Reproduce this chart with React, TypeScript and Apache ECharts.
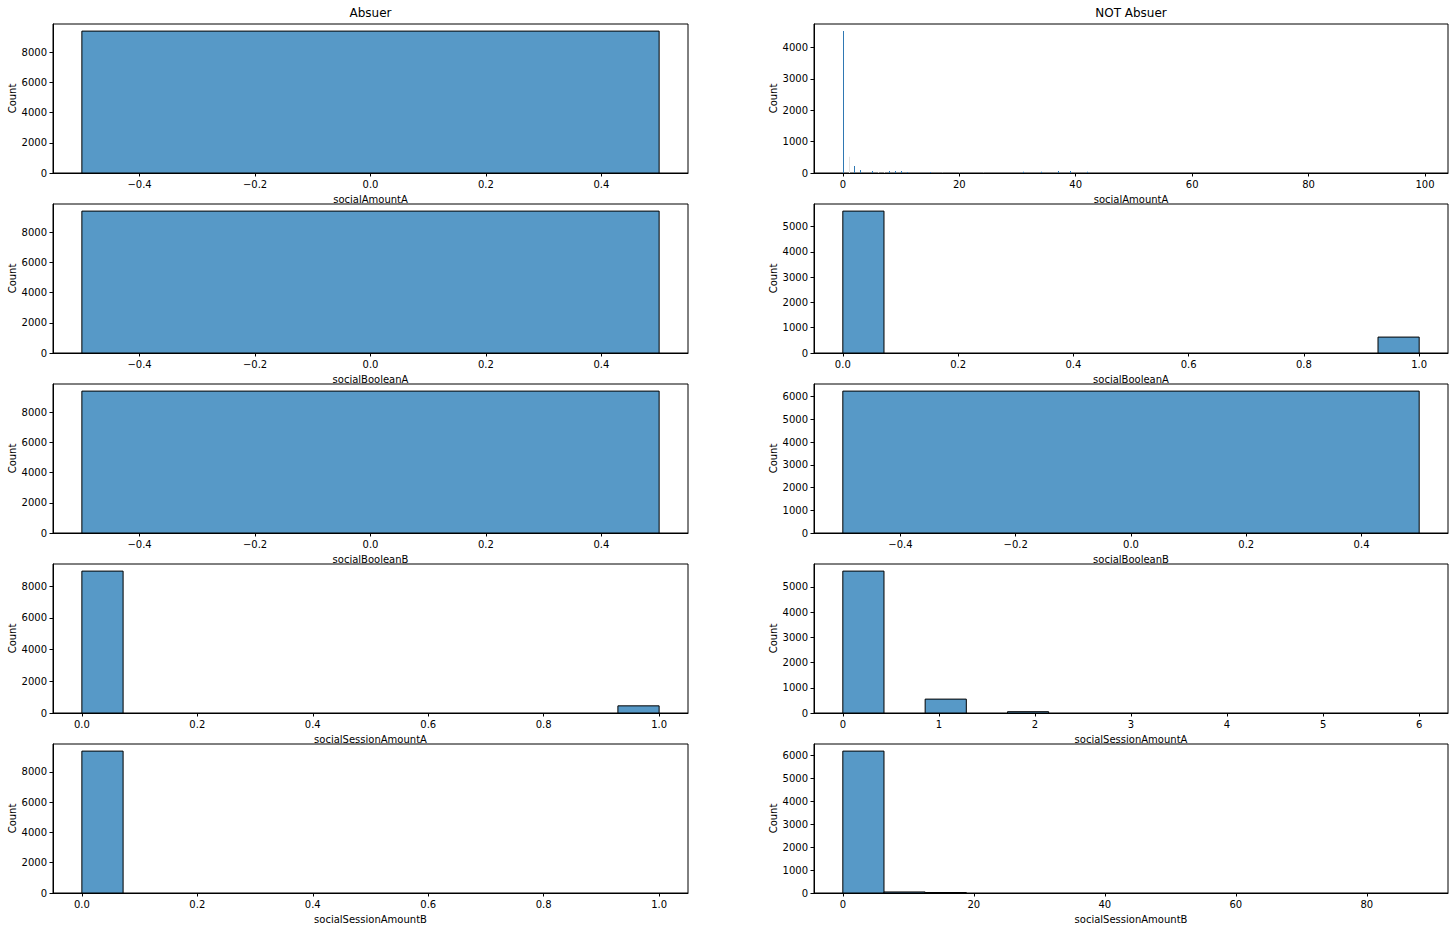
import React, { useEffect, useRef } from 'react';
import * as echarts from 'echarts';

// ---------------- data ----------------
const columnTitles = ['Absuer', 'NOT Absuer'];
const featureNames = ['socialAmountA', 'socialBooleanA', 'socialBooleanB', 'socialSessionAmountA', 'socialSessionAmountB'];

// Absuer column (counts per bin)
const absSocialAmountACounts = [9390]; // single bin centred on 0
const absSocialBooleanACounts = [9390];
const absSocialBooleanBCounts = [9390];
const absSocialSessionAmountACounts = [8940, 0, 0, 0, 0, 0, 0, 0, 0, 0, 0, 0, 0, 450];
const absSocialSessionAmountBCounts = [9380, 0, 0, 0, 0, 0, 0, 0, 0, 0, 0, 0, 0, 10];

// NOT Absuer column
const notSocialAmountAValues = [0, 1, 2, 3, 5, 6, 7, 8, 9, 10, 11, 15, 17, 20, 24, 29, 31, 34, 37, 39, 42, 99];
const notSocialAmountACounts = [4526, 520, 222, 95, 64, 20, 20, 64, 64, 64, 32, 32, 10, 15, 10, 8, 40, 40, 60, 60, 40, 2];
const notSocialAmountAFaintValues = [1, 6, 7, 17, 20, 24, 29, 99];
const notSocialBooleanACounts = [5617, 0, 0, 0, 0, 0, 0, 0, 0, 0, 0, 0, 0, 630];
const notSocialBooleanBCounts = [6247];
const notSocialSessionAmountACounts = [5630, 0, 551, 0, 52, 0, 0, 6, 0, 3, 0, 2, 0, 1];
const notSocialSessionAmountBCounts = [6173, 45, 20, 3, 2, 1, 0, 0, 0, 0, 0, 0, 0, 3];

// tick values / labels
const centredTicks = [-0.4, -0.2, 0, 0.2, 0.4];
const centredLabels = ['\u22120.4', '\u22120.2', '0.0', '0.2', '0.4'];
const unitTicks = [0, 0.2, 0.4, 0.6, 0.8, 1];
const unitLabels = ['0.0', '0.2', '0.4', '0.6', '0.8', '1.0'];
const amountATicks = [0, 20, 40, 60, 80, 100];
const sessionATicks = [0, 1, 2, 3, 4, 5, 6];
const sessionBTicks = [0, 20, 40, 60, 80];
const countTicks2000 = [0, 2000, 4000, 6000, 8000];
const countTicks4000 = [0, 1000, 2000, 3000, 4000];
const countTicks5000 = [0, 1000, 2000, 3000, 4000, 5000];
const countTicks6000 = [0, 1000, 2000, 3000, 4000, 5000, 6000];

// ---------------- helpers ----------------
type Bin = [number, number, number, number];

function evenBins(lo: number, hi: number, counts: number[]): Bin[] {
  const w = (hi - lo) / counts.length;
  return counts.map((c, i) => [lo + i * w, lo + (i + 1) * w, c, 0] as Bin);
}

function pointBins(values: number[], counts: number[], faint: number[], width: number): Bin[] {
  return values.map((v, i) => [v, v + width, counts[i], faint.includes(v) ? 1 : 0] as Bin);
}

interface Panel {
  bins: Bin[];
  lo: number;
  hi: number;
  xTicks: number[];
  xLabels: string[];
  yTicks: number[];
  thin?: boolean;
}

const panels: Panel[] = [
  { bins: evenBins(-0.5, 0.5, absSocialAmountACounts), lo: -0.5, hi: 0.5, xTicks: centredTicks, xLabels: centredLabels, yTicks: countTicks2000 },
  { bins: pointBins(notSocialAmountAValues, notSocialAmountACounts, notSocialAmountAFaintValues, 0.17), lo: 0, hi: 99, xTicks: amountATicks, xLabels: amountATicks.map(String), yTicks: countTicks4000, thin: true },
  { bins: evenBins(-0.5, 0.5, absSocialBooleanACounts), lo: -0.5, hi: 0.5, xTicks: centredTicks, xLabels: centredLabels, yTicks: countTicks2000 },
  { bins: evenBins(0, 1, notSocialBooleanACounts), lo: 0, hi: 1, xTicks: unitTicks, xLabels: unitLabels, yTicks: countTicks5000 },
  { bins: evenBins(-0.5, 0.5, absSocialBooleanBCounts), lo: -0.5, hi: 0.5, xTicks: centredTicks, xLabels: centredLabels, yTicks: countTicks2000 },
  { bins: evenBins(-0.5, 0.5, notSocialBooleanBCounts), lo: -0.5, hi: 0.5, xTicks: centredTicks, xLabels: centredLabels, yTicks: countTicks6000 },
  { bins: evenBins(0, 1, absSocialSessionAmountACounts), lo: 0, hi: 1, xTicks: unitTicks, xLabels: unitLabels, yTicks: countTicks2000 },
  { bins: evenBins(0, 6, notSocialSessionAmountACounts), lo: 0, hi: 6, xTicks: sessionATicks, xLabels: sessionATicks.map(String), yTicks: countTicks5000 },
  { bins: evenBins(0, 1, absSocialSessionAmountBCounts), lo: 0, hi: 1, xTicks: unitTicks, xLabels: unitLabels, yTicks: countTicks2000 },
  { bins: evenBins(0, 88, notSocialSessionAmountBCounts), lo: 0, hi: 88, xTicks: sessionBTicks, xLabels: sessionBTicks.map(String), yTicks: countTicks6000 },
];

const FONT = 'DejaVu Sans';
const BAR = '#5799c7';
const THIN = '#2f78b3';
const FAINT = '#e2e2e2';

function buildOption() {
  const grid: any[] = [];
  const xAxis: any[] = [];
  const yAxis: any[] = [];
  const series: any[] = [];
  const graphic: any[] = [];

  panels.forEach((p, i) => {
    const row = Math.floor(i / 2);
    const col = i % 2;
    const left = col === 0 ? 53 : 814;
    const width = col === 0 ? 635 : 634;
    const top = 24 + row * 180;
    const height = 149;
    grid.push({ left, top, width, height, show: true, borderColor: '#000', borderWidth: 1, backgroundColor: 'transparent', containLabel: false });

    const span = p.hi - p.lo;
    const yMax = Math.max(...p.bins.map((b) => b[2])) * 1.05;
    const xl = p.xLabels;
    const xt = p.xTicks;
    xAxis.push({
      type: 'value', gridIndex: i, min: p.lo - 0.05 * span, max: p.hi + 0.05 * span,
      name: featureNames[row], nameLocation: 'middle', nameGap: 21,
      nameTextStyle: { fontFamily: FONT, fontSize: 10, color: '#000' },
      axisLine: { show: true, onZero: false, lineStyle: { color: '#000', width: 1 } },
      axisTick: { show: true, length: 3.5, customValues: xt, lineStyle: { color: '#000' } },
      axisLabel: {
        customValues: xt, margin: 6, fontFamily: FONT, fontSize: 10, color: '#000',
        formatter: (v: number) => { const k = xt.findIndex((t) => Math.abs(t - v) < 1e-9); return k >= 0 ? xl[k] : ''; },
      },
      splitLine: { show: false },
    });
    yAxis.push({
      type: 'value', gridIndex: i, min: 0, max: yMax,
      name: 'Count', nameLocation: 'middle', nameGap: 36, nameRotate: 90,
      nameTextStyle: { fontFamily: FONT, fontSize: 10, color: '#000' },
      axisLine: { show: true, onZero: false, lineStyle: { color: '#000', width: 1 } },
      axisTick: { show: true, length: 3.5, customValues: p.yTicks, lineStyle: { color: '#000' } },
      axisLabel: { customValues: p.yTicks, margin: 6, fontFamily: FONT, fontSize: 10, color: '#000', formatter: (v: number) => String(Math.round(v)) },
      splitLine: { show: false },
    });
    const thin = !!p.thin;
    series.push({
      type: 'custom', xAxisIndex: i, yAxisIndex: i, clip: true,
      encode: { x: [0, 1], y: 2 },
      data: p.bins,
      renderItem: (params: any, api: any) => {
        const c = api.value(2);
        if (!(c > 0)) return null;
        const a = api.coord([api.value(0), 0]);
        const b = api.coord([api.value(1), c]);
        const h = a[1] - b[1];
        if (h < 0.3) return null; // sub-pixel bars are not visible
        const faint = api.value(3) === 1;
        if (thin) {
          const x = Math.round(a[0]);
          return {
            type: 'rect',
            shape: { x, y: b[1], width: Math.max(1, Math.round(b[0] - a[0])), height: h },
            style: { fill: faint ? FAINT : THIN },
          };
        }
        return {
          type: 'rect',
          shape: { x: a[0], y: b[1], width: b[0] - a[0], height: h },
          style: { fill: BAR, stroke: '#000', lineWidth: 1 },
        };
      },
    });
  });

  columnTitles.forEach((t, c) => {
    graphic.push({
      type: 'text', x: c === 0 ? 53 + 635 / 2 : 814 + 634 / 2, y: 19,
      style: { text: t, fontFamily: FONT, fontSize: 12, fill: '#000', textAlign: 'center', textVerticalAlign: 'bottom' },
    });
  });

  return { animation: false, backgroundColor: '#fff', grid, xAxis, yAxis, series, graphic };
}

export default function App() {
  const ref = useRef<HTMLDivElement>(null);
  useEffect(() => {
    if (!ref.current) return;
    const chart = echarts.init(ref.current, undefined, { renderer: 'svg' });
    chart.setOption(buildOption() as any);
    return () => chart.dispose();
  }, []);
  return <div ref={ref} style={{ position: 'absolute', left: 0, top: 0, width: 1455, height: 931 }} />;
}
